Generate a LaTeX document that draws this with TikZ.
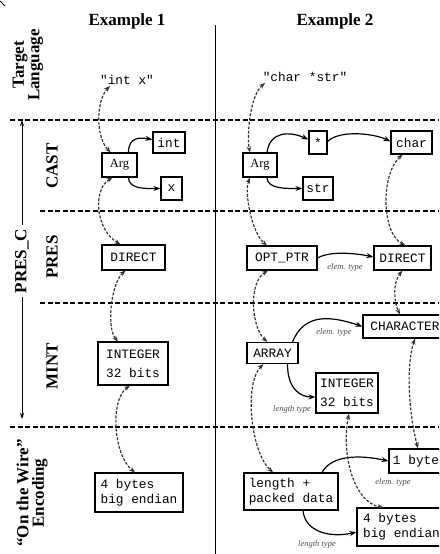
\documentclass[tikz,border=0pt]{standalone}
\usepackage{fontspec}
\setmainfont{Liberation Serif}
\setmonofont{Liberation Mono}
\usetikzlibrary{arrows.meta}
\begin{document}
\begin{tikzpicture}[x=1pt,y=-1pt,
  box/.style={draw=black, line width=1.1pt, inner sep=0pt, font=\ttfamily\fontsize{12.8}{15}\selectfont, align=center},
  ibox/.style={box, font=\ttfamily\fontsize{12.8}{19}\selectfont},
  lbox/.style={box, align=left, inner xsep=5pt},
  rbox/.style={box, font=\rmfamily\fontsize{12.5}{14}\selectfont},
  lbl/.style={font=\bfseries\fontsize{17}{15.5}\selectfont, rotate=90, align=center, inner sep=0pt},
  hd/.style={font=\bfseries\fontsize{17}{17}\selectfont, inner sep=0pt, anchor=base},
  code/.style={font=\ttfamily\fontsize{12.8}{15}\selectfont, inner sep=1pt},
  sep/.style={line width=1.4pt, dash pattern=on 5pt off 2.5pt},
  dcon/.style={draw=black!80, line width=1.2pt, dash pattern=on 2.8pt off 1.6pt,
    {Stealth[length=6pt,width=4.5pt]}-{Stealth[length=6pt,width=4.5pt]}},
  scon/.style={draw=black, line width=1.2pt, -{Stealth[length=7pt,width=5pt]}},
  note/.style={font=\itshape\fontsize{8.5}{9}\selectfont, text=black!70, inner sep=0pt},
]
\useasboundingbox (0,0) rectangle (439,554);
\clip (0,0) rectangle (439,554);

\draw[line width=0.8pt] (0,1) -- (5,6);

% headers
\node[hd] (ex1) at (127,25) {Example 1};
\node[hd] (ex2) at (335,25) {Example 2};

% column divider and layer separators
\coordinate (vtop) at (215,25);
\coordinate (vbot) at (215,554);
\draw[line width=0.8pt] (vtop) -- (vbot);
\draw[sep] (10,120) -- (439,120);
\draw[sep] (40,211) -- (439,211);
\draw[sep] (40,303) -- (439,303);
\draw[sep] (10,427) -- (439,427);

% left labels
\node[lbl] (tl) at (28,65) {Target\\Language};
\node[lbl] (cast) at (52,166) {CAST};
\node[lbl] (pres) at (52,257) {PRES};
\node[lbl] (mint) at (52,366) {MINT};
\node[lbl] (wire) at (32,493) {“On the Wire”\\Encoding};
\node[lbl, inner sep=4pt] (pc) at (22,261) {PRES\_C};
\coordinate (pctop) at (22,120);
\coordinate (pcbot) at (22,419);
\draw[line width=1pt, -{Stealth[length=6pt,width=4pt]}] (pc.east) -- (pctop);
\draw[line width=1pt, -{Stealth[length=6pt,width=4pt]}] (pc.west) -- (pcbot);

% Example 1
\node[code] (t1) at (127,80) {"int x"};
\node[rbox, minimum width=35pt, minimum height=24pt] (arg1) at (119.5,165) {Arg};
\node[box, minimum width=32pt, minimum height=21pt] (intb) at (169,142.5) {int};
\node[box, minimum width=21pt, minimum height=23pt] (xb) at (171.5,188.5) {x};
\node[box, minimum width=63pt, minimum height=25pt] (dir1) at (133.5,257.5) {DIRECT};
\node[ibox, minimum width=70pt, minimum height=43pt] (int1) at (133,363.5) {INTEGER\\32 bits};
\node[lbox, minimum width=88pt, minimum height=39pt] (b41) at (139,492.5) {4 bytes\\big endian};

% Example 2
\node[code] (t2) at (305,77) {"char *str"};
\node[rbox, minimum width=34pt, minimum height=24pt] (arg2) at (260,165) {Arg};
\node[box, minimum width=18pt, minimum height=23pt] (star) at (318,142.5) {*};
\node[box, minimum width=30pt, minimum height=23pt] (strb) at (318,188.5) {str};
\node[box, minimum width=41pt, minimum height=23pt] (char) at (411.5,142.5) {char};
\node[box, minimum width=70pt, minimum height=24pt] (optr) at (282,258) {OPT\_PTR};
\node[box, minimum width=57pt, minimum height=24pt] (dir2) at (402.5,258) {DIRECT};
\node[box, minimum width=84pt, minimum height=23pt] (charac) at (405,326.5) {CHARACTER};
\node[box, minimum width=51pt, minimum height=21pt] (array) at (272.5,353) {ARRAY};
\node[ibox, minimum width=62pt, minimum height=40pt] (int2) at (347,393) {INTEGER\\32 bits};
\node[lbox, minimum width=94pt, minimum height=37pt, inner xsep=4.5pt] (lpd) at (291,491.5) {length +\\packed data};
\node[box, minimum width=54pt, minimum height=24pt] (byte1) at (416,461) {1 byte};
\node[lbox, minimum width=89pt, minimum height=38pt, inner xsep=6pt] (b42) at (401.5,527) {4 bytes\\big endian};

% labels on solid connectors
\node[note] (et1) at (345,267) {elem. type};
\node[note] (et2) at (334,332) {elem. type};
\node[note] (lt1) at (292,409) {length type};
\node[note] (et3) at (393,482) {elem. type};
\node[note] (lt2) at (317,544) {length type};

% solid connectors
\draw[scon] ([xshift=9pt]arg1.north) .. controls +(0,-16) and +(-12,-2) .. ([yshift=3pt]intb.west);
\draw[scon] ([xshift=9pt]arg1.south) .. controls +(0,12) and +(-14,0) .. (xb.west);
\draw[scon] ([xshift=7pt]arg2.north) .. controls +(3,-22) and +(-18,-8) .. ([yshift=3pt]star.west);
\draw[scon] ([xshift=7pt]arg2.south) .. controls +(0,12) and +(-14,0) .. (strb.west);
\draw[scon] ([yshift=1pt]star.east) .. controls +(12,-12) and +(-16,-8) .. ([yshift=1pt]char.west);
\draw[scon] (optr.east) .. controls +(14,-8) and +(-14,-3) .. ([yshift=1pt]dir2.west);
\draw[scon] ([xshift=20pt]array.north) .. controls +(12,-30) and +(-30,-10) .. (charac.west);
\draw[scon] ([xshift=15pt]array.south) .. controls +(0,25) and +(-15,0) .. ([yshift=-4pt]int2.west);
\draw[scon] ([xshift=31pt]lpd.north) .. controls +(10,-18) and +(-28,-6) .. (byte1.west);
\draw[scon] ([xshift=12pt]lpd.south) .. controls +(2,22) and +(-25,6) .. ([yshift=-5pt]b42.west);

% dashed correspondence connectors
\draw[dcon] ([xshift=-17pt]t1.south) .. controls +(-14,15) and +(-15,-16) .. ([xshift=-9pt]arg1.north);
\draw[dcon] ([xshift=-7pt]arg1.south) .. controls +(-20,12) and +(-25,-15) .. ([xshift=-13pt]dir1.north);
\draw[dcon] ([xshift=-8pt]dir1.south) .. controls +(-14,12) and +(-12,-14) .. ([xshift=-15pt]int1.north);
\draw[dcon] ([xshift=-3pt]int1.south) .. controls +(-20,14) and +(-22,-18) .. ([xshift=-4pt]b41.north);
\draw[dcon] ([xshift=-40pt]t2.south) .. controls +(-16,14) and +(-3,-14) .. ([xshift=-10pt]arg2.north);
\draw[dcon] ([xshift=-10pt]arg2.south) .. controls +(-6,15) and +(-15,-12) .. ([xshift=-15pt]optr.north);
\draw[dcon] ([xshift=-9pt]char.south) .. controls +(-22,20) and +(-24,-12) .. ([xshift=3pt]dir2.north);
\draw[dcon] ([xshift=-14pt]optr.south) .. controls +(-20,12) and +(-16,-14) .. ([xshift=-5pt]array.north);
\draw[dcon] (dir2.south) .. controls +(-10,12) and +(-6,-12) .. ([xshift=-5pt]charac.north);
\draw[dcon] ([xshift=-9pt]array.south) .. controls +(-20,20) and +(-22,-20) .. ([xshift=-18pt]lpd.north);
\draw[dcon] ([xshift=10pt]charac.south) .. controls +(-10,30) and +(-8,-30) .. ([xshift=2pt]byte1.north);
\draw[dcon] ([xshift=2pt]int2.south) .. controls +(-8,40) and +(-30,-5) .. ([xshift=-18pt]b42.north);
\end{tikzpicture}
\end{document}
